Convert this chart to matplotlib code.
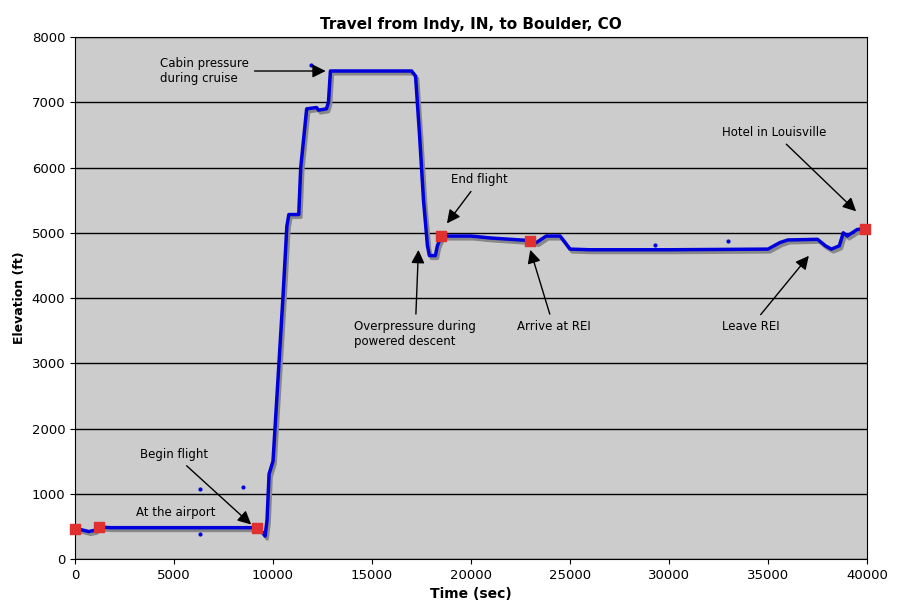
import matplotlib.pyplot as plt
import matplotlib.patheffects as pe

# elevation trace (breakpoints)
time_s = [0, 300, 700, 1000, 1200, 1800, 9200, 9500, 9600, 9700, 9800, 10000, 10200,
          10500, 10700, 10800, 11300, 11400, 11700, 12200, 12300, 12700, 12800, 12900,
          14000, 17000, 17200, 17400, 17600, 17800, 17900, 18200, 18300, 18500, 20000,
          21000, 22000, 23000, 23300, 23800, 24500, 25000, 26000, 30000, 35000, 35600,
          36000, 37500, 37900, 38200, 38600, 38800, 39000, 39500, 40000]
elev_ft = [460, 450, 420, 440, 490, 480, 480, 400, 350, 600, 1300, 1500, 2500,
           4000, 5100, 5280, 5280, 6000, 6900, 6920, 6880, 6900, 7000, 7480,
           7480, 7480, 7400, 6500, 5500, 4800, 4650, 4650, 4800, 4950, 4950,
           4920, 4900, 4880, 4850, 4950, 4950, 4750, 4740, 4740, 4750, 4850,
           4890, 4900, 4800, 4750, 4800, 5000, 4950, 5050, 5070]
stray_t = [11900, 6300, 8500, 6300, 29300, 33000]
stray_e = [7570, 1070, 1100, 380, 4820, 4880]
mark_t = [0, 1200, 9200, 18500, 23000, 39900]
mark_e = [460, 490, 480, 4950, 4880, 5060]

fig = plt.figure(figsize=(8.97, 6.14), dpi=100)
ax = fig.add_axes([0.0836, 0.0896, 0.883, 0.85])
ax.set_facecolor('#cccccc')

shadow = [pe.SimpleLineShadow(offset=(1.5, -2), shadow_color='#888888', alpha=1), pe.Normal()]
ax.plot(time_s, elev_ft, color='#0000dd', lw=2.5, zorder=3, path_effects=shadow)
ax.scatter(stray_t, stray_e, s=4, color='#0000dd', zorder=3)
ax.scatter(mark_t, mark_e, s=60, marker='s', color='#e03030', zorder=4, clip_on=False)

ax.set_xlim(0, 40000)
ax.set_ylim(0, 8000)
ax.set_xticks(range(0, 40001, 5000))
ax.set_yticks(range(0, 8001, 1000))
ax.yaxis.grid(True, color='black', lw=1)
ax.set_axisbelow(True)
ax.tick_params(labelsize=9.5)
ax.set_xlabel('Time (sec)', fontweight='bold', fontsize=10)
ax.set_ylabel('Elevation (ft)', fontweight='bold', fontsize=9)
ax.set_title('Travel from Indy, IN, to Boulder, CO', fontweight='bold', fontsize=11)

arrow = dict(arrowstyle='-|>', color='black', lw=1, mutation_scale=20)
kw = dict(fontsize=8.5, arrowprops=arrow, zorder=5)
ax.annotate('Cabin pressure\nduring cruise', xy=(12800, 7480), xytext=(4300, 7480), va='center', **kw)
ax.annotate('End flight', xy=(18700, 5110), xytext=(19000, 5810), va='center', **kw)
ax.annotate('Overpressure during\npowered descent', xy=(17350, 4780), xytext=(14100, 3670), va='top', **kw)
ax.annotate('Arrive at REI', xy=(22950, 4780), xytext=(22300, 3670), va='top', **kw)
ax.annotate('Leave REI', xy=(37150, 4680), xytext=(32700, 3670), va='top', **kw)
ax.annotate('Hotel in Louisville', xy=(39550, 5300), xytext=(32700, 6530), va='center', **kw)
ax.annotate('Begin flight', xy=(9000, 500), xytext=(3300, 1600), va='center', **kw)
ax.text(3100, 720, 'At the airport', fontsize=8.5, va='center', zorder=5)

fig.savefig('out.png', dpi=100)
